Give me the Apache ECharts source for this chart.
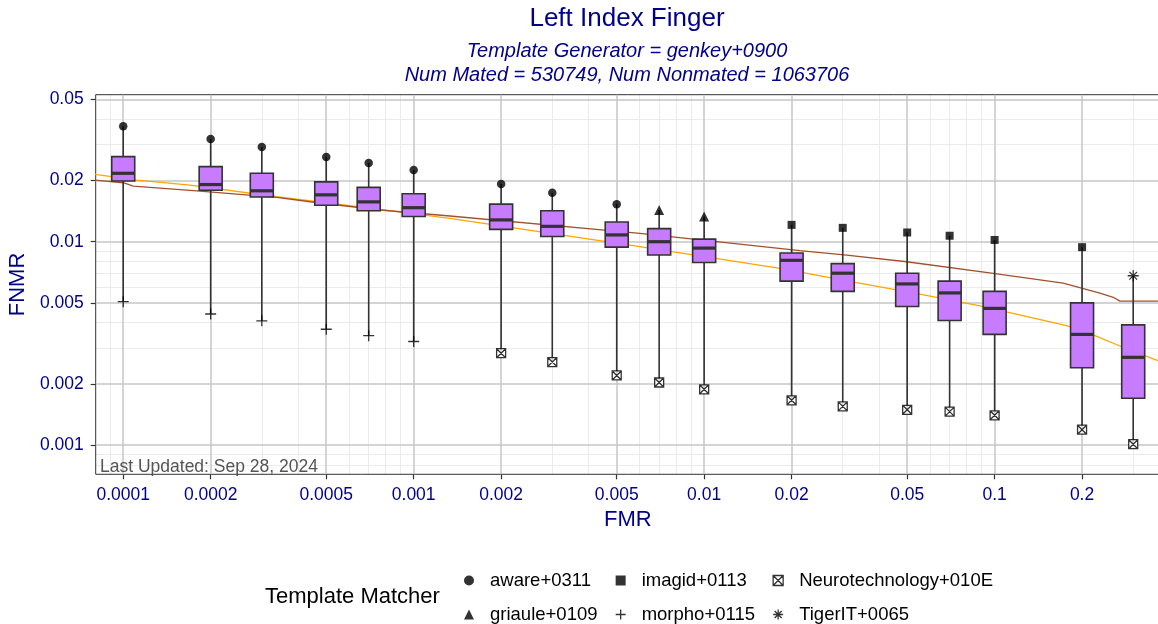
<!DOCTYPE html>
<html>
<head>
<meta charset="utf-8">
<title>Left Index Finger</title>
<script src="https://cdn.jsdelivr.net/npm/echarts@6/dist/echarts.min.js"></script>
<style>
html, body { margin: 0; padding: 0; background: #fff; }
#chart { width: 1158px; height: 624px; }
</style>
</head>
<body>
<div id="chart"></div>
<script>
// FMR operating points of the boxes
var fmr = [0.0001, 0.0002, 0.0003, 0.0005, 0.0007, 0.001, 0.002, 0.003, 0.005, 0.007, 0.01, 0.02, 0.03, 0.05, 0.07, 0.1, 0.2, 0.3];
// FNMR box statistics over the template matchers
var fnmrMax    = [0.0370, 0.0320, 0.0292, 0.0261, 0.0244, 0.0225, 0.0192, 0.0174, 0.0153, 0.0143, 0.0133, 0.0121, 0.0117, 0.0111, 0.0107, 0.0102, 0.0094, 0.0068];
var fnmrQ3     = [0.0262, 0.0234, 0.0217, 0.0197, 0.0185, 0.0172, 0.0153, 0.0142, 0.0125, 0.0116, 0.0103, 0.0088, 0.0078, 0.0070, 0.0064, 0.0057, 0.0050, 0.0039];
var fnmrMedian = [0.0217, 0.0191, 0.0178, 0.0170, 0.0157, 0.0147, 0.0128, 0.0119, 0.0108, 0.0100, 0.0093, 0.0081, 0.0070, 0.0062, 0.0056, 0.0047, 0.0035, 0.0027];
var fnmrQ1     = [0.0199, 0.0179, 0.0166, 0.0151, 0.0142, 0.0133, 0.0115, 0.0106, 0.0094, 0.0086, 0.0079, 0.0064, 0.0057, 0.0048, 0.0041, 0.0035, 0.0024, 0.0017];
var fnmrMin    = [0.00507, 0.00441, 0.00408, 0.00371, 0.00345, 0.00323, 0.00283, 0.00256, 0.00220, 0.00203, 0.00188, 0.00166, 0.00155, 0.00149, 0.00146, 0.00140, 0.00119, 0.00101];
// which matcher gives the max / min at each FMR
var maxMatcher = ['aware+0311', 'aware+0311', 'aware+0311', 'aware+0311', 'aware+0311', 'aware+0311', 'aware+0311', 'aware+0311', 'aware+0311',
                  'griaule+0109', 'griaule+0109',
                  'imagid+0113', 'imagid+0113', 'imagid+0113', 'imagid+0113', 'imagid+0113', 'imagid+0113',
                  'TigerIT+0065'];
var minMatcher = ['morpho+0115', 'morpho+0115', 'morpho+0115', 'morpho+0115', 'morpho+0115', 'morpho+0115',
                  'Neurotechnology+010E', 'Neurotechnology+010E', 'Neurotechnology+010E', 'Neurotechnology+010E', 'Neurotechnology+010E', 'Neurotechnology+010E',
                  'Neurotechnology+010E', 'Neurotechnology+010E', 'Neurotechnology+010E', 'Neurotechnology+010E', 'Neurotechnology+010E', 'Neurotechnology+010E'];

// reference curves
var orangeFmr  = [8.0e-5, 1.113e-4, 1.698e-4, 3.377e-4, 7.65e-4, 1.333e-3, 6.01e-3, 0.01824, 0.0335, 0.0553, 0.089, 0.177, 0.2184, 0.27, 0.3648];
var orangeFnmr = [0.02144, 0.0201, 0.0190, 0.01664, 0.01443, 0.01303, 0.00945, 0.0074, 0.00629, 0.00553, 0.00483, 0.00387, 0.00348, 0.00307, 0.0026];
var brownFmr   = [8.0e-5, 1.0e-4, 1.083e-4, 1.837e-4, 3.377e-4, 4.4e-4, 7.65e-4, 1.333e-3, 6.01e-3, 0.02137, 0.03094, 0.0498, 0.0989, 0.1722, 0.2304, 0.2561, 0.27, 0.3648];
var brownFnmr  = [0.0201, 0.0195, 0.01878, 0.01775, 0.01653, 0.01572, 0.01432, 0.01338, 0.0110, 0.00903, 0.0086, 0.00797, 0.00699, 0.00625, 0.00558, 0.00533, 0.0051, 0.0051];

// tick labels and grid positions
var xTickLabels = ['0.0001', '0.0002', '0.0005', '0.001', '0.002', '0.005', '0.01', '0.02', '0.05', '0.1', '0.2'];
var yTickLabels = ['0.001', '0.002', '0.005', '0.01', '0.02', '0.05'];
var xMinor = [9e-5, 3e-4, 4e-4, 6e-4, 7e-4, 8e-4, 9e-4, 3e-3, 4e-3, 6e-3, 7e-3, 8e-3, 9e-3, 0.03, 0.04, 0.06, 0.07, 0.08, 0.09, 0.3];
var yMinor = [0.0008, 0.0009, 0.003, 0.004, 0.006, 0.007, 0.008, 0.009, 0.03, 0.04];

var FONT = 'Liberation Sans';
var BLUE = '#00008B';
var xMajor = xTickLabels.map(Number);
var yMajor = yTickLabels.map(Number);

function tickText(labels) {
    return function (v) {
        for (var i = 0; i < labels.length; i++) {
            if (Math.abs(Number(labels[i]) - v) / v < 1e-6) return labels[i];
        }
        return '';
    };
}

function pointsFor(name, vals, who) {
    var out = [];
    fmr.forEach(function (f, i) {
        if (who[i] === name) out.push([f, vals[i]]);
    });
    return out;
}

var boxData = fmr.map(function (f, i) {
    return [f, fnmrMin[i], fnmrQ1[i], fnmrMedian[i], fnmrQ3[i], fnmrMax[i]];
});

function renderBox(params, api) {
    var x = api.value(0);
    var pMin = api.coord([x, api.value(1)]);
    var pQ1 = api.coord([x, api.value(2)]);
    var pMed = api.coord([x, api.value(3)]);
    var pQ3 = api.coord([x, api.value(4)]);
    var pMax = api.coord([x, api.value(5)]);
    var w = 23;
    return {
        type: 'group',
        children: [
            { type: 'line', shape: { x1: pMin[0], y1: pMin[1], x2: pMax[0], y2: pMax[1] }, style: { stroke: '#333', lineWidth: 1.6 } },
            { type: 'rect', shape: { x: pQ3[0] - w / 2, y: pQ3[1], width: w, height: pQ1[1] - pQ3[1] }, style: { fill: '#C77CFF', stroke: '#333', lineWidth: 1.6 } },
            { type: 'line', shape: { x1: pMed[0] - w / 2, y1: pMed[1], x2: pMed[0] + w / 2, y2: pMed[1] }, style: { stroke: '#333', lineWidth: 3.2 } }
        ]
    };
}

var plusPath = 'path://M0,5L10,5M5,0L5,10';
var boxXPath = 'path://M0,0L10,0L10,10L0,10ZM0,0L10,10M10,0L0,10';
var starPath = 'path://M5,0L5,10M0,5L10,5M1.5,1.5L8.5,8.5M8.5,1.5L1.5,8.5';

var matchers = [
    { name: 'aware+0311', vals: fnmrMax, who: maxMatcher, symbol: 'circle', size: 8.5, style: { color: '#000' } },
    { name: 'griaule+0109', vals: fnmrMax, who: maxMatcher, symbol: 'triangle', size: 10, style: { color: '#000' } },
    { name: 'imagid+0113', vals: fnmrMax, who: maxMatcher, symbol: 'rect', size: 8, style: { color: '#000' } },
    { name: 'morpho+0115', vals: fnmrMin, who: minMatcher, symbol: plusPath, size: 11, style: { color: 'transparent', borderColor: '#000', borderWidth: 1.3 } },
    { name: 'Neurotechnology+010E', vals: fnmrMin, who: minMatcher, symbol: boxXPath, size: 9, style: { color: '#fff', borderColor: '#000', borderWidth: 1.3 } },
    { name: 'TigerIT+0065', vals: fnmrMax, who: maxMatcher, symbol: starPath, size: 11, style: { color: 'transparent', borderColor: '#000', borderWidth: 1.3 } }
];

var xMin = 8.04e-5, xMax = 0.371;
var yMin = 0.000718, yMax = 0.05284;

var series = [
    {
        type: 'line', name: 'orange', data: orangeFmr.map(function (f, i) { return [f, orangeFnmr[i]]; }),
        showSymbol: false, symbol: 'none', z: 1, silent: true,
        lineStyle: { color: '#FFA500', width: 1.3 }
    },
    {
        type: 'line', name: 'brown', data: brownFmr.map(function (f, i) { return [f, brownFnmr[i]]; }),
        showSymbol: false, symbol: 'none', z: 1, silent: true,
        lineStyle: { color: '#A0522D', width: 1.3 }
    },
    {
        type: 'custom', name: 'box', data: boxData, renderItem: renderBox, z: 3, silent: true,
        encode: { x: 0, y: [1, 2, 3, 4, 5] }
    }
];
matchers.forEach(function (m) {
    series.push({
        type: 'scatter', name: m.name, data: pointsFor(m.name, m.vals, m.who),
        symbol: m.symbol, symbolSize: m.size, itemStyle: m.style, z: 5, silent: true
    });
});

// one legend per column, icon centre at iconX
function legendCol(names, iconX) {
    return {
        orient: 'vertical', left: iconX - 5, top: 571, padding: 0,
        itemWidth: 10, itemHeight: 10, itemGap: 15, selectedMode: false,
        textStyle: { fontFamily: FONT, fontSize: 18.5, color: '#000', lineHeight: 18, padding: [0, 0, 0, 11] },
        data: names.map(function (n) {
            var m = matchers.filter(function (q) { return q.name === n; })[0];
            return { name: n, icon: m.symbol, itemStyle: m.style };
        })
    };
}

var chart = echarts.init(document.getElementById('chart'), null, { renderer: 'canvas' });
chart.setOption({
    animation: false,
    backgroundColor: '#fff',
    title: {
        text: 'Left Index Finger',
        subtext: 'Template Generator = genkey+0900\nNum Mated = 530749, Num Nonmated = 1063706',
        left: 627, textAlign: 'center', top: 5, padding: 0, itemGap: 7,
        textStyle: { fontFamily: FONT, fontSize: 26, fontWeight: 'normal', color: BLUE, lineHeight: 28 },
        subtextStyle: { fontFamily: FONT, fontSize: 20, fontStyle: 'italic', color: BLUE, lineHeight: 23.7 }
    },
    grid: {
        left: 95.7, top: 94.7, right: -2, bottom: 149.7,
        show: true, borderColor: '#333', borderWidth: 1, backgroundColor: 'transparent',
        containLabel: false, outerBoundsMode: 'none'
    },
    xAxis: [
        {
            type: 'log', logBase: 10, min: xMin, max: xMax,
            name: 'FMR', nameLocation: 'middle', nameGap: 34,
            nameTextStyle: { fontFamily: FONT, fontSize: 22, color: BLUE },
            axisLine: { show: false },
            axisTick: { show: true, customValues: xMajor, length: 5, lineStyle: { color: '#333', width: 1.2 } },
            axisLabel: { customValues: xMajor, formatter: tickText(xTickLabels), margin: 12, fontFamily: FONT, fontSize: 17.5, color: BLUE },
            splitLine: { show: true, lineStyle: { color: '#c6c6c6', width: 1.5 } },
            minorTick: { show: false }, minorSplitLine: { show: false }
        },
        {
            type: 'log', logBase: 10, min: xMin, max: xMax, position: 'bottom', z: -1,
            axisLine: { show: false },
            axisTick: { show: false, customValues: xMinor },
            axisLabel: { show: false },
            splitLine: { show: true, lineStyle: { color: '#ebebeb', width: 1 } }
        }
    ],
    yAxis: [
        {
            type: 'log', logBase: 10, min: yMin, max: yMax,
            name: 'FNMR', nameLocation: 'middle', nameGap: 52,
            nameTextStyle: { fontFamily: FONT, fontSize: 22, color: BLUE },
            axisLine: { show: false },
            axisTick: { show: true, customValues: yMajor, length: 5, lineStyle: { color: '#333', width: 1.2 } },
            axisLabel: { customValues: yMajor, formatter: tickText(yTickLabels), margin: 12, fontFamily: FONT, fontSize: 17.5, color: BLUE },
            splitLine: { show: true, lineStyle: { color: '#c6c6c6', width: 1.5 } },
            minorTick: { show: false }, minorSplitLine: { show: false }
        },
        {
            type: 'log', logBase: 10, min: yMin, max: yMax, position: 'left', z: -1,
            axisLine: { show: false },
            axisTick: { show: false, customValues: yMinor },
            axisLabel: { show: false },
            splitLine: { show: true, lineStyle: { color: '#ebebeb', width: 1 } }
        }
    ],
    legend: [
        legendCol(['aware+0311', 'griaule+0109'], 469),
        legendCol(['imagid+0113', 'morpho+0115'], 620),
        legendCol(['Neurotechnology+010E', 'TigerIT+0065'], 777.5)
    ],
    graphic: [
        {
            type: 'text', left: 265, top: 586, silent: true,
            style: { text: 'Template Matcher', font: '22px "Liberation Sans"', fill: '#000' }
        },
        {
            type: 'text', left: 100, top: 458, silent: true, z: 10,
            style: { text: 'Last Updated: Sep 28, 2024', font: '17.5px "Liberation Sans"', fill: '#555' }
        }
    ],
    series: series
});
</script>
</body>
</html>
